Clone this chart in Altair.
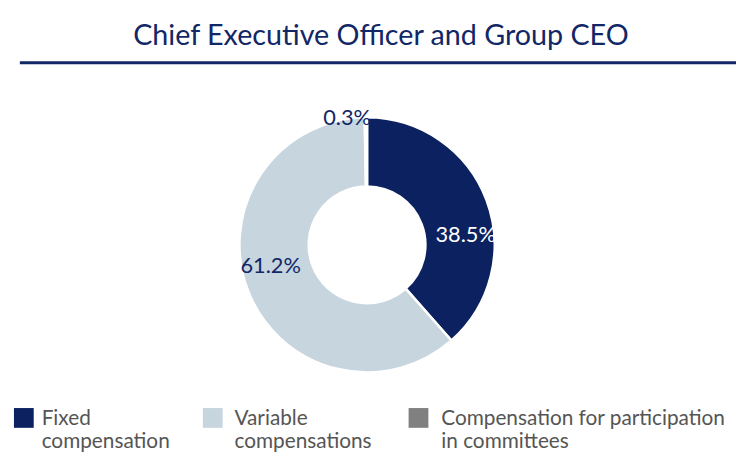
import altair as alt
import pandas as pd

categories = ["Fixed compensation", "Variable compensations", "Compensation for participation in committees"]
values = [38.5, 61.2, 0.3]
labels = ["38.5%", "61.2%", "0.3%"]
legend_text = ["Fixed\ncompensation", "Variable\ncompensations", "Compensation for participation\nin committees"]
colors = ["#0b2160", "#c7d5df", "#808080"]
title_text = "Chief Executive Officer and Group CEO"

df = pd.DataFrame({
    "cat": categories,
    "value": values,
    "label": labels,
    "legend": legend_text,
    "order": [0, 1, 2],
})

NAVY = "#112766"
FONT = "Lato"
CX, CY = 363, 237

color_scale = alt.Scale(domain=categories, range=colors)
theta_scale = alt.Scale(domain=[0, 100], range=[0, 6.283185307])

base = alt.Chart(df)

arcs = base.mark_arc(outerRadius=129, innerRadius=59, stroke="white", strokeWidth=2.5).encode(
    theta=alt.Theta("value:Q", stack=True, scale=theta_scale),
    color=alt.Color("cat:N", scale=color_scale, legend=None),
    order=alt.Order("order:Q"),
    x=alt.value(CX),
    y=alt.value(CY),
)

pos = base.transform_window(
    cum="sum(value)", sort=[alt.SortField("order")], frame=[None, 0]
).transform_calculate(mid="datum.cum - datum.value / 2")

def lab(cat, r, dx, dy, color):
    return pos.transform_filter(alt.datum.cat == cat).mark_text(
        font=FONT, fontSize=22, dx=dx, dy=dy, baseline="middle", align="center", color=color
    ).encode(
        theta=alt.Theta("mid:Q", stack=None, scale=theta_scale),
        radius=alt.value(r),
        text="label:N",
        x=alt.value(CX),
        y=alt.value(CY),
    )

lab1 = lab(categories[0], 97, 9, 24, "white")
lab2 = lab(categories[1], 97, -7, -14, NAVY)
lab3 = lab(categories[2], 128, -19, 0, NAVY)

title = alt.Chart(pd.DataFrame({"t": [title_text]})).mark_text(
    font=FONT, fontSize=29, color=NAVY, align="center", baseline="alphabetic"
).encode(text="t:N", x=alt.value(377), y=alt.value(35))

rule = alt.Chart(pd.DataFrame({"t": [title_text]})).mark_rule(color=NAVY, strokeWidth=3).encode(
    x=alt.value(12), x2=alt.value(736), y=alt.value(53)
)

def legend_entry(cat, sq_x, tx_x):
    d = base.transform_filter(alt.datum.cat == cat)
    sq = d.mark_square(size=400, opacity=1).encode(
        x=alt.value(sq_x),
        y=alt.value(412),
        color=alt.Color("cat:N", scale=color_scale, legend=None),
    )
    tx = d.transform_calculate(lines="split(datum.legend, '\\n')").mark_text(
        font=FONT, fontSize=21, color="#555555", align="left", baseline="alphabetic", lineHeight=23
    ).encode(
        x=alt.value(tx_x),
        y=alt.value(419),
        text="lines:N",
    )
    return [sq, tx]

leg = (
    legend_entry(categories[0], 16, 34)
    + legend_entry(categories[1], 207, 229)
    + legend_entry(categories[2], 415, 438)
)

chart = alt.layer(rule, title, arcs, lab1, lab2, lab3, *leg).properties(
    width=736, height=444, padding=0,
    autosize=alt.AutoSizeParams(type="none"),
).configure_view(stroke=None)

chart.save("out.html", embed_options={"renderer": "svg", "actions": False})
